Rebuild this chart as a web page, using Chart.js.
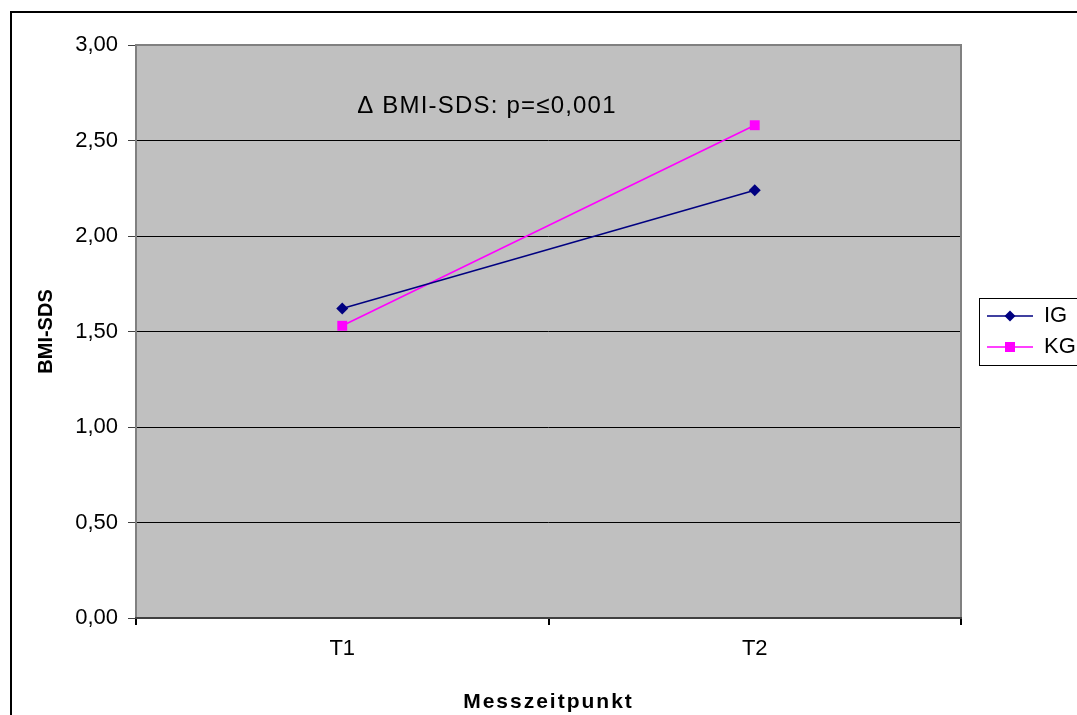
<!DOCTYPE html>
<html>
<head>
<meta charset="utf-8">
<script src="https://cdn.jsdelivr.net/npm/chart.js@4.4.0/dist/chart.umd.min.js"></script>
<style>
html, body { margin: 0; padding: 0; background: #fff; }
#wrap { width: 1077px; height: 715px; }
</style>
</head>
<body>
<div id="wrap"><canvas id="bmi" width="1077" height="715"></canvas></div>
<script>
// Daten
var zeitpunkte = ["T1", "T2"];
var igWerte = [1.62, 2.24];
var kgWerte = [1.53, 2.58];
var yMin = 0, yMax = 3, yStep = 0.5;
var hinweis = "\u0394 BMI-SDS: p=\u22640,001";

var schrift = "'Liberation Sans', Arial, sans-serif";
var plotGrau = "#c0c0c0";

// Legendensymbol: Linie mit Marker (links etwas Luft)
function legendenSymbol(farbe, form) {
    var c = document.createElement("canvas");
    c.width = 63;
    c.height = 14;
    var g = c.getContext("2d");
    g.strokeStyle = farbe;
    g.lineWidth = 1.5;
    g.beginPath();
    g.moveTo(17, 7);
    g.lineTo(63, 7);
    g.stroke();
    g.fillStyle = farbe;
    if (form === "raute") {
        g.beginPath();
        g.moveTo(40, 1.5);
        g.lineTo(45.5, 7);
        g.lineTo(40, 12.5);
        g.lineTo(34.5, 7);
        g.closePath();
        g.fill();
    } else {
        g.fillRect(35, 2, 10, 10);
    }
    return c;
}

var rahmen = {
    id: "rahmen",
    beforeDraw: function (chart) {
        var ctx = chart.ctx, a = chart.chartArea;
        ctx.save();
        ctx.fillStyle = "#fff";
        ctx.fillRect(0, 0, chart.width, chart.height);
        // aeusserer Rahmen
        ctx.strokeStyle = "#000";
        ctx.lineWidth = 2;
        ctx.strokeRect(11, 12, chart.width + 10, chart.height + 10);
        // Plotflaeche
        ctx.fillStyle = plotGrau;
        ctx.fillRect(a.left, a.top, a.right - a.left, a.bottom - a.top);
        ctx.restore();
    },
    beforeDatasetsDraw: function (chart) {
        var ctx = chart.ctx, a = chart.chartArea;
        ctx.save();
        ctx.lineWidth = 2;
        ctx.strokeStyle = "#808080";
        ctx.beginPath();
        ctx.moveTo(a.left, a.bottom);
        ctx.lineTo(a.left, a.top);
        ctx.lineTo(a.right, a.top);
        ctx.lineTo(a.right, a.bottom);
        ctx.stroke();
        ctx.strokeStyle = "#404040";
        ctx.beginPath();
        ctx.moveTo(a.left - 1, a.bottom);
        ctx.lineTo(a.right + 1, a.bottom);
        ctx.stroke();
        // Hinweistext
        var sx = chart.scales.x, sy = chart.scales.y;
        ctx.fillStyle = "#000";
        ctx.font = "24px " + schrift;
        ctx.letterSpacing = "1.2px";
        ctx.textAlign = "left";
        ctx.textBaseline = "middle";
        ctx.fillText(hinweis, sx.getPixelForValue(0) + 15, sy.getPixelForValue(2.68));
        ctx.restore();
    },
    afterDraw: function (chart) {
        // Rahmen um die Legende
        var lg = chart.legend;
        if (!lg || !lg.legendHitBoxes || !lg.legendHitBoxes.length) return;
        var hb = lg.legendHitBoxes;
        var erst = hb[0], letzt = hb[hb.length - 1];
        var ctx = chart.ctx;
        ctx.save();
        ctx.strokeStyle = "#000";
        ctx.lineWidth = 1;
        var x0 = Math.round(erst.left + 17 - 8) + 0.5;
        var y0 = Math.round(erst.top - 7) + 0.5;
        var y1 = Math.round(letzt.top + letzt.height + 7) + 0.5;
        ctx.strokeRect(x0, y0, chart.width + 20 - x0, y1 - y0);
        ctx.restore();
    }
};

var abstand = {
    id: "abstand",
    afterLayout: function (chart) {
        var sx = chart.scales.x;
        if (!sx || sx._mitAbstand) return;
        var orig = sx.drawTitle;
        sx.drawTitle = function () {
            this.ctx.save();
            this.ctx.letterSpacing = "2px";
            orig.apply(this, arguments);
            this.ctx.restore();
        };
        sx._mitAbstand = true;
    }
};

var grafik = new Chart(document.getElementById("bmi"), {
    type: "line",
    data: {
        labels: zeitpunkte,
        datasets: [{
            label: "IG",
            data: igWerte,
            borderColor: "#000080",
            backgroundColor: "#000080",
            borderWidth: 1.5,
            pointStyle: "rectRot",
            pointRadius: 6,
            pointHoverRadius: 6,
            pointBorderWidth: 0,
            tension: 0,
            fill: false
        }, {
            label: "KG",
            data: kgWerte,
            borderColor: "#ff00ff",
            backgroundColor: "#ff00ff",
            borderWidth: 1.5,
            pointStyle: "rect",
            pointRadius: 7,
            pointHoverRadius: 7,
            pointBorderWidth: 0,
            tension: 0,
            fill: false
        }]
    },
    options: {
        responsive: false,
        animation: false,
        layout: { padding: { left: 20, top: 45, right: 0, bottom: 0 } },
        plugins: {
            tooltip: { enabled: false },
            legend: {
                position: "right",
                align: "center",
                fullSize: false,
                maxWidth: 116,
                labels: {
                    usePointStyle: true,
                    pointStyleWidth: 63,
                    padding: 9,
                    color: "#000",
                    font: { family: schrift, size: 22 },
                    generateLabels: function (chart) {
                        return chart.data.datasets.map(function (ds, i) {
                            return {
                                text: ds.label,
                                pointStyle: legendenSymbol(ds.borderColor, i === 0 ? "raute" : "quadrat"),
                                fillStyle: ds.borderColor,
                                strokeStyle: ds.borderColor,
                                lineWidth: 0,
                                hidden: false,
                                datasetIndex: i,
                                fontColor: "#000"
                            };
                        });
                    }
                }
            }
        },
        scales: {
            x: {
                type: "category",
                offset: true,
                afterFit: function (s) { s.height = 97; },
                grid: {
                    offset: true,
                    drawOnChartArea: false,
                    drawTicks: true,
                    tickLength: 7,
                    tickColor: "#000",
                    lineWidth: 2
                },
                border: { display: false },
                ticks: {
                    color: "#000",
                    padding: 11,
                    font: { family: schrift, size: 22 }
                },
                title: {
                    display: true,
                    text: "Messzeitpunkt",
                    color: "#000",
                    padding: { top: 15, bottom: 0 },
                    font: { family: schrift, size: 21, weight: "bold" }
                }
            },
            y: {
                min: yMin,
                max: yMax,
                afterFit: function (s) { s.width = 116; },
                grid: {
                    color: "#000",
                    lineWidth: 1,
                    tickColor: "#404040",
                    tickLength: 8
                },
                border: { display: false },
                ticks: {
                    stepSize: yStep,
                    color: "#000",
                    padding: 10,
                    font: { family: schrift, size: 22 },
                    callback: function (v) { return v.toFixed(2).replace(".", ","); }
                },
                title: {
                    display: true,
                    text: "BMI-SDS",
                    color: "#000",
                    padding: { top: 14, bottom: 0 },
                    font: { family: schrift, size: 20, weight: "bold" }
                }
            }
        }
    },
    plugins: [rahmen, abstand]
});
</script>
</body>
</html>
